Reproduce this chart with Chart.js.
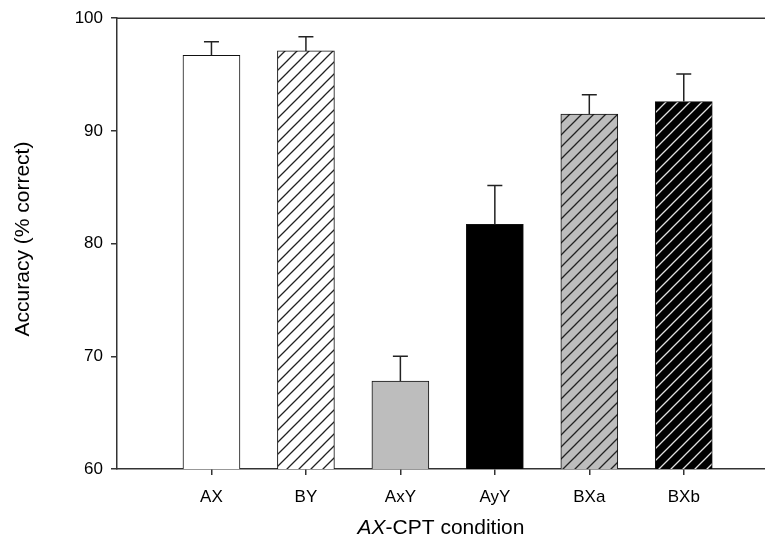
<!DOCTYPE html>
<html>
<head>
<meta charset="utf-8">
<script src="https://cdn.jsdelivr.net/npm/chart.js@4/dist/chart.umd.min.js"></script>
<style>
  html, body { margin: 0; padding: 0; background: #fff; }
  canvas { display: block; }
</style>
</head>
<body>
<canvas id="acc" width="765" height="545"></canvas>
<script>
// data
const categories = ['AX', 'BY', 'AxY', 'AyY', 'BXa', 'BXb'];
const accuracy = [96.7, 97.1, 67.8, 81.7, 91.5, 92.6];
const sem = [1.2, 1.25, 2.2, 3.45, 1.7, 2.45];
const yTicks = [60, 70, 80, 90, 100];

// hatch fills (bg, line colour)
function hatch(bg, fg) {
  const c = document.createElement('canvas');
  const s = 12;
  c.width = s; c.height = s;
  const g = c.getContext('2d');
  g.fillStyle = bg;
  g.fillRect(0, 0, s, s);
  g.strokeStyle = fg;
  g.lineWidth = 1.3;
  g.beginPath();
  g.moveTo(0, s); g.lineTo(s, 0);
  g.moveTo(-s / 2, s / 2); g.lineTo(s / 2, -s / 2);
  g.moveTo(s / 2, s * 1.5); g.lineTo(s * 1.5, s / 2);
  g.stroke();
  return g.createPattern(c, 'repeat');
}

const fills = [
  '#ffffff',
  hatch('#ffffff', '#222'),
  '#bdbdbd',
  '#000000',
  hatch('#bdbdbd', '#222'),
  hatch('#000000', '#e0e0e0')
];

const FONT = '"Liberation Sans", Arial, sans-serif';

// error bars (upward only), frame top line, titles
const extras = {
  id: 'extras',
  afterDatasetsDraw(chart) {
    const ctx = chart.ctx;
    const x = chart.scales.x, y = chart.scales.y;
    const area = chart.chartArea;
    ctx.save();
    ctx.strokeStyle = '#222';
    ctx.lineWidth = 1.5;
    accuracy.forEach((v, i) => {
      const px = x.getPixelForValue(i + 1);
      const top = y.getPixelForValue(v + sem[i]);
      const bot = y.getPixelForValue(v);
      ctx.beginPath();
      ctx.moveTo(px, bot); ctx.lineTo(px, top);
      ctx.moveTo(px - 7.5, top); ctx.lineTo(px + 7.5, top);
      ctx.stroke();
    });
    // top frame line
    ctx.strokeStyle = '#333';
    ctx.beginPath();
    ctx.moveTo(area.left, area.top); ctx.lineTo(chart.width, area.top);
    ctx.stroke();

    // x title, "AX" italic
    ctx.fillStyle = '#000';
    ctx.textBaseline = 'alphabetic';
    const it = 'italic 21px ' + FONT;
    const rg = '21px ' + FONT;
    ctx.font = it;
    const w1 = ctx.measureText('AX').width;
    ctx.font = rg;
    const w2 = ctx.measureText('-CPT condition').width;
    let sx = (area.left + area.right) / 2 - (w1 + w2) / 2;
    ctx.textAlign = 'left';
    ctx.font = it;
    ctx.fillText('AX', sx, 534);
    ctx.font = rg;
    ctx.fillText('-CPT condition', sx + w1, 534);

    // y title
    ctx.translate(23, 239);
    ctx.rotate(-Math.PI / 2);
    ctx.textAlign = 'center';
    ctx.textBaseline = 'middle';
    ctx.fillText('Accuracy (% correct)', 0, 0);
    ctx.restore();
  }
};

new Chart(document.getElementById('acc'), {
  type: 'bar',
  data: {
    datasets: [{
      data: accuracy.map((v, i) => ({ x: i + 1, y: v })),
      backgroundColor: fills,
      borderColor: '#111',
      borderWidth: 1,
      barThickness: 57
    }]
  },
  options: {
    responsive: false,
    animation: false,
    devicePixelRatio: 1,
    layout: { padding: { top: 15, right: 0, left: 0, bottom: 0 } },
    plugins: { legend: { display: false }, tooltip: { enabled: false } },
    scales: {
      x: {
        type: 'linear',
        offset: false,
        min: 0,
        max: 6.86,
        afterBuildTicks(s) { s.ticks = categories.map((c, i) => ({ value: i + 1 })); },
        afterFit(s) { s.height = 76; },
        grid: { offset: false, drawOnChartArea: false, drawTicks: true, tickLength: 6, color: '#333', lineWidth: 1.5 },
        border: { display: true, color: '#333', width: 1.5 },
        ticks: {
          color: '#000',
          padding: 12,
          maxRotation: 0,
          autoSkip: false,
          font: { family: FONT, size: 17 },
          callback: v => categories[v - 1]
        }
      },
      y: {
        min: 60,
        max: 100,
        afterBuildTicks(s) { s.ticks = yTicks.map(v => ({ value: v })); },
        afterFit(s) { s.width = 117; },
        grid: { drawOnChartArea: false, drawTicks: true, tickLength: 6, color: '#333', lineWidth: 1.5 },
        border: { display: true, color: '#333', width: 1.5 },
        ticks: {
          color: '#000',
          padding: 8,
          autoSkip: false,
          font: { family: FONT, size: 17 }
        }
      }
    }
  },
  plugins: [extras]
});
</script>
</body>
</html>
